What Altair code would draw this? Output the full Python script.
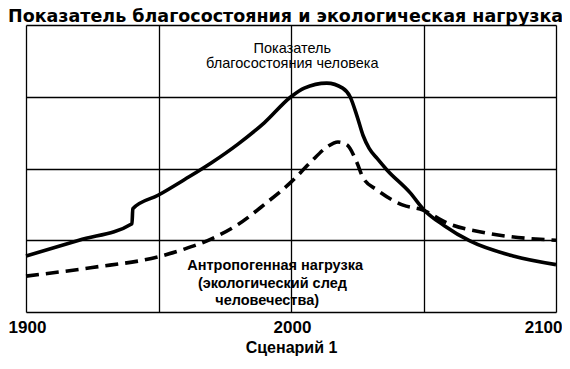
import altair as alt
import pandas as pd

# Welfare index (solid line)
welfare_years = [1900, 1920, 1940, 1940.3, 1950, 1960, 1970, 1980, 1990, 2000, 2005,
                 2013.5, 2019.5, 2022.3, 2025, 2027.2, 2029.5, 2032.5, 2036.2, 2045, 2050,
                 2058, 2067.5, 2083.8, 2100]
welfare_values = [0.78, 1.00, 1.23, 1.44, 1.63, 1.85, 2.08, 2.34, 2.64, 3.00, 3.12,
                  3.19, 3.12, 3.00, 2.72, 2.46, 2.28, 2.14, 1.98, 1.66, 1.43,
                  1.20, 0.99, 0.78, 0.66]

# Ecological footprint (dashed line)
footprint_years = [1900, 1925, 1950, 1960, 1970, 1980, 1990, 2000, 2007.2, 2013.6,
                   2017.7, 2021.1, 2024.9, 2027.2, 2032.5, 2042.3, 2049.8, 2058.9, 2074, 2100]
footprint_values = [0.50, 0.62, 0.77, 0.88, 1.02, 1.22, 1.50, 1.81, 2.08, 2.30,
                    2.37, 2.33, 2.08, 1.87, 1.70, 1.49, 1.42, 1.24, 1.10, 1.00]

# Annotations
chart_title = "Показатель благосостояния и экологическая нагрузка"
label_top_lines = ["Показатель", "благосостояния человека"]
label_top_x = [2000.5, 2000.5]
label_top_y = [3.61, 3.40]
label_bottom_lines = ["Антропогенная нагрузка", "(экологический след", "человечества)"]
label_bottom_x = [1994, 1993, 1991]
label_bottom_y = [0.585, 0.334, 0.098]

x_grid = [1900, 1950, 2000, 2050, 2100]
y_grid = [0, 1, 2, 3, 4]

FONT = "Liberation Sans"

welfare = pd.DataFrame({"year": welfare_years, "value": welfare_values,
                        "order": list(range(len(welfare_years)))})
footprint = pd.DataFrame({"year": footprint_years, "value": footprint_values})
top_df = pd.DataFrame({"text": label_top_lines, "year": label_top_x, "value": label_top_y})
bot_df = pd.DataFrame({"text": label_bottom_lines, "year": label_bottom_x, "value": label_bottom_y})
title_df = pd.DataFrame({"text": [chart_title]})

xscale = alt.Scale(domain=[1900, 2100], nice=False, zero=False)
yscale = alt.Scale(domain=[0, 4], nice=False, zero=True)

x_axis = alt.Axis(
    values=x_grid,
    labelExpr="datum.value % 100 == 0 ? datum.label : ''",
    format="d",
    grid=True, gridColor="#000", gridWidth=1.3, gridOpacity=1,
    ticks=False, domain=False,
    labelFont=FONT, labelFontSize=17, labelFontWeight="bold", labelColor="#000",
    labelPadding=7, labelFlush=False,
    labelAlign={"condition": {"test": "datum.value == 2100", "value": "right"}, "value": "center"},
    labelOffset={"condition": {"test": "datum.value == 2100", "value": 6},
                 "value": 1},
    title="Сценарий 1", titleFont=FONT, titleFontSize=16, titleFontWeight="bold",
    titleColor="#000", titlePadding=4,
)
y_axis = alt.Axis(values=y_grid, grid=True, gridColor="#000", gridWidth=1.3, gridOpacity=1,
                  ticks=False, domain=False, labels=False, title=None)

base_x = alt.X("year:Q", scale=xscale, axis=x_axis)
base_y = alt.Y("value:Q", scale=yscale, axis=y_axis)

solid = alt.Chart(welfare).mark_line(color="#000", strokeWidth=3.6, interpolate="monotone").encode(
    x=base_x, y=base_y, order="order:Q")
dashed = alt.Chart(footprint).mark_line(color="#000", strokeWidth=3.6, strokeDash=[13, 7],
                                        interpolate="monotone").encode(
    x=alt.X("year:Q", scale=xscale), y=alt.Y("value:Q", scale=yscale))

top_text = alt.Chart(top_df).mark_text(font=FONT, fontSize=14.5, color="#000",
                                       align="center", baseline="alphabetic").encode(
    x=alt.X("year:Q", scale=xscale), y=alt.Y("value:Q", scale=yscale), text="text:N")
bot_text = alt.Chart(bot_df).mark_text(font=FONT, fontSize=14.5, fontWeight="bold", color="#000",
                                       align="center", baseline="alphabetic").encode(
    x=alt.X("year:Q", scale=xscale), y=alt.Y("value:Q", scale=yscale), text="text:N")
title_text = alt.Chart(title_df).mark_text(font="DejaVu Sans", fontSize=17.5, fontWeight="bold",
                                           color="#000", align="left", baseline="alphabetic").encode(
    x=alt.value(-18), y=alt.value(-3), text="text:N")

chart = alt.layer(solid, dashed, top_text, bot_text, title_text).properties(
    width=530, height=287,
    autosize=alt.AutoSizeParams(type="none"),
    padding={"left": 18, "top": 17, "right": 6, "bottom": 49},
).configure_view(stroke="#000", strokeWidth=2.2).configure(background="#fff")

chart.save("out.html", embed_options={"renderer": "svg", "actions": False})
